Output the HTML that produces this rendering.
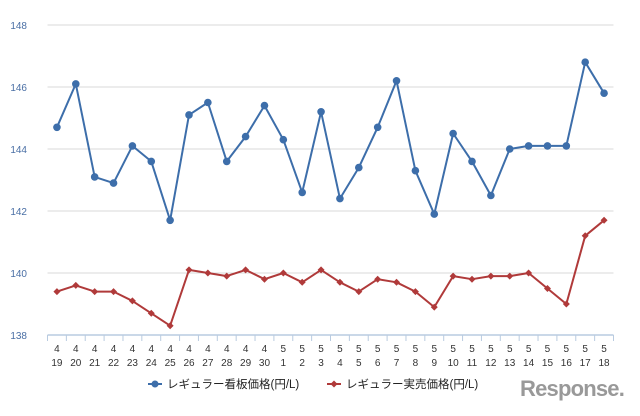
<!DOCTYPE html>
<html><head><meta charset="utf-8"><style>
body{margin:0;background:#fff;}
svg text{font-family:"Liberation Sans","Noto Sans CJK JP",sans-serif;}
</style></head><body>
<svg width="640" height="411" xmlns="http://www.w3.org/2000/svg">
<g id="grid"></g><g id="axis"></g><g id="series"></g>
<g>
  <g>
    <line x1="148" y1="384" x2="162" y2="384" stroke="#3d6eaa" stroke-width="2"/>
    <circle cx="155" cy="384" r="3.5" fill="#3d6eaa"/>
    <text x="167" y="388" font-size="11.5" fill="#222">レギュラー看板価格(円/L)</text>
  </g>
  <g>
    <line x1="327" y1="384" x2="341" y2="384" stroke="#b03a3a" stroke-width="2"/>
    <path d="M334 380.5 L337.5 384 L334 387.5 L330.5 384Z" fill="#b03a3a"/>
    <text x="346" y="388" font-size="11.5" fill="#222">レギュラー実売価格(円/L)</text>
  </g>
</g>
<text x="520" y="396" font-size="22" fill="#999" font-weight="bold" letter-spacing="-0.8">Response.</text>
<script>
const months=["4","4","4","4","4","4","4","4","4","4","4","4","5","5","5","5","5","5","5","5","5","5","5","5","5","5","5","5","5","5"];
const days=["19","20","21","22","23","24","25","26","27","28","29","30","1","2","3","4","5","6","7","8","9","10","11","12","13","14","15","16","17","18"];
const signboard=[144.7,146.1,143.1,142.9,144.1,143.6,141.7,145.1,145.5,143.6,144.4,145.4,144.3,142.6,145.2,142.4,143.4,144.7,146.2,143.3,141.9,144.5,143.6,142.5,144.0,144.1,144.1,144.1,146.8,145.8];
const actual=[139.4,139.6,139.4,139.4,139.1,138.7,138.3,140.1,140.0,139.9,140.1,139.8,140.0,139.7,140.1,139.7,139.4,139.8,139.7,139.4,138.9,139.9,139.8,139.9,139.9,140.0,139.5,139.0,141.2,141.7];
const yTicks=[138,140,142,144,146,148];
const NS="http://www.w3.org/2000/svg";
const x0=47.5,x1=613.5,yMin=138,yMax=148,py0=335,py1=25;
const bw=(x1-x0)/days.length;
function xs(i){return x0+bw*(i+0.5);}
function ys(v){return py0-(v-yMin)/(yMax-yMin)*(py0-py1);}
function mk(tag,attrs,parent){const e=document.createElementNS(NS,tag);for(const k in attrs)e.setAttribute(k,attrs[k]);parent.appendChild(e);return e;}
const grid=document.getElementById('grid'),axis=document.getElementById('axis'),ser=document.getElementById('series');
yTicks.forEach(t=>{
  if(t!==yMin){const l=mk('line',{x1:x0,x2:x1,y1:ys(t),y2:ys(t),stroke:'#d9d9d9','stroke-width':1},grid);
  
  }
  const tx=mk('text',{x:27,y:ys(t)+4,'font-size':10,fill:'#4a6fa5','text-anchor':'end'},axis);tx.textContent=t;
  
  
});
const ax=mk('line',{x1:x0,x2:x1,y1:py0,y2:py0,stroke:'#b9cbe0','stroke-width':1.5},axis);


for(let i=0;i<=days.length;i++){const tk=mk('line',{x1:x0+bw*i,x2:x0+bw*i,y1:py0,y2:py0+6,stroke:'#b9cbe0'},axis);

}
days.forEach((d,i)=>{
  const m=mk('text',{x:xs(i),y:352,'font-size':10,fill:'#333','text-anchor':'middle'},axis);m.textContent=months[i];
  
  
  const t=mk('text',{x:xs(i),y:366,'font-size':10,fill:'#333','text-anchor':'middle'},axis);t.textContent=d;
  
  
});
function line(vals,color,name,marker){
  const p=mk('polyline',{points:vals.map((v,i)=>xs(i)+','+ys(v)).join(' '),fill:'none',stroke:color,'stroke-width':2,'stroke-linejoin':'round'},ser);
  
  
  vals.forEach((v,i)=>{
    let m;
    if(marker==='circle')m=mk('circle',{cx:xs(i),cy:ys(v),r:3.8,fill:color},ser);
    else {const x=xs(i),y=ys(v);m=mk('path',{d:`M${x} ${y-3.5}L${x+3.5} ${y}L${x} ${y+3.5}L${x-3.5} ${y}Z`,fill:color},ser);}
    
    
  });
}
line(signboard,'#3d6eaa','signboard-price','circle');
line(actual,'#b03a3a','actual-price','diamond');
</script>
</svg>
</body></html>
